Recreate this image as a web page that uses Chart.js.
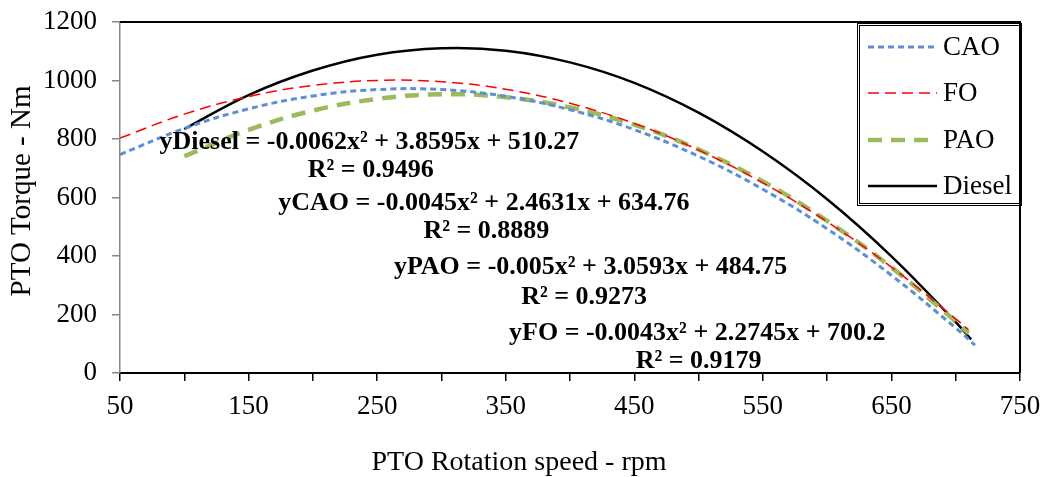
<!DOCTYPE html>
<html>
<head>
<meta charset="utf-8">
<script src="https://cdn.jsdelivr.net/npm/chart.js@4.4.1/dist/chart.umd.min.js"></script>
<style>
  html, body { margin: 0; padding: 0; background: #fff; }
  #wrap { width: 1057px; height: 477px; }
</style>
</head>
<body>
<div id="wrap"><canvas id="ptoChart" width="1057" height="477"></canvas></div>
<script>
/* ── Dados ── */
const rpmCAO     = [50, 100, 150, 200, 250, 300, 350, 400, 450, 500, 550, 600, 650, 700, 715];
const torqueCAO  = [747, 836, 903, 947, 969, 969, 946, 900, 832, 741, 628, 493, 334, 154, 95];

const rpmFO      = [50, 100, 150, 200, 250, 300, 350, 400, 450, 500, 550, 600, 650, 700, 710];
const torqueFO   = [803, 885, 945, 983, 1000, 996, 970, 922, 853, 762, 650, 517, 362, 185, 148];

const rpmPAO     = [100, 150, 200, 250, 300, 350, 400, 450, 500, 550, 600, 650, 700, 710];
const torquePAO  = [741, 831, 897, 937, 953, 943, 908, 849, 764, 655, 520, 361, 176, 136];

const rpmDiesel    = [100, 150, 200, 250, 300, 350, 400, 450, 500, 550, 600, 650, 700, 712];
const torqueDiesel = [834, 950, 1034, 1088, 1110, 1102, 1062, 992, 890, 757, 594, 399, 174, 115];

const seriesNames = ['CAO', 'FO', 'PAO', 'Diesel'];

const xTicks = { min: 50, max: 750, step: 50 };
const yTicks = { min: 0, max: 1200, step: 200 };

const xTitle = 'PTO Rotation speed - rpm';
const yTitle = 'PTO Torque - Nm';

/* Equações das linhas de tendência, como na figura */
const trendText = [
  'yDiesel = -0.0062x² + 3.8595x + 510.27', 'R² = 0.9496',
  'yCAO = -0.0045x² + 2.4631x + 634.76',    'R² = 0.8889',
  'yPAO = -0.005x² + 3.0593x + 484.75',     'R² = 0.9273',
  'yFO = -0.0043x² + 2.2745x + 700.2',      'R² = 0.9179',
];
// posição (rpm, Nm) do centro de cada texto
const trendPos = [
  [244, 790], [245, 694],
  [333, 579], [335, 484],
  [416, 360], [411, 260],
  [499, 137], [500, 40],
];

/* ── Estilo ── */
const SERIF = "'Liberation Serif', 'Times New Roman', serif";
const C = {
  cao:    '#5b8fd8',
  fo:     '#ff0000',
  pao:    '#9bbb59',
  diesel: '#000000',
  axisY:  '#868686',
};

const toXY = (xs, ys) => xs.map((x, i) => ({ x, y: ys[i] }));

const datasets = [
  { label: seriesNames[0], data: toXY(rpmCAO, torqueCAO),
    borderColor: C.cao, borderWidth: 3, borderDash: [6, 4] },
  { label: seriesNames[1], data: toXY(rpmFO, torqueFO),
    borderColor: C.fo, borderWidth: 1.5, borderDash: [11, 6] },
  { label: seriesNames[2], data: toXY(rpmPAO, torquePAO),
    borderColor: C.pao, borderWidth: 4.5, borderDash: [14, 9] },
  { label: seriesNames[3], data: toXY(rpmDiesel, torqueDiesel),
    borderColor: C.diesel, borderWidth: 2.5, borderDash: [] },
].map(d => Object.assign(d, { fill: false, tension: 0.4, pointRadius: 0 }));

/* ── Plugin: moldura, legenda, títulos e equações ── */
const chartText = {
  id: 'chartText',
  afterDraw(chart) {
    const { ctx, chartArea: a, scales } = chart;
    ctx.save();

    // moldura superior e direita
    ctx.strokeStyle = '#000';
    ctx.lineWidth = 2;
    ctx.beginPath();
    ctx.moveTo(a.left, a.top);
    ctx.lineTo(a.right, a.top);
    ctx.lineTo(a.right, a.bottom);
    ctx.stroke();

    // legenda com borda dupla
    ctx.lineWidth = 1;
    ctx.strokeRect(857.5, 23.5, 164, 182);
    ctx.strokeRect(859.5, 25.5, 160, 178);
    const rowY = [47, 93, 140, 186];
    chart.data.datasets.forEach((ds, i) => {
      ctx.strokeStyle = ds.borderColor;
      ctx.lineWidth = ds.borderWidth;
      ctx.setLineDash(ds.borderDash);
      ctx.beginPath();
      ctx.moveTo(868, rowY[i]);
      ctx.lineTo(937, rowY[i]);
      ctx.stroke();
      ctx.setLineDash([]);
      ctx.fillStyle = '#000';
      ctx.font = `27px ${SERIF}`;
      ctx.textAlign = 'left';
      ctx.textBaseline = 'middle';
      ctx.fillText(ds.label, 943, rowY[i] + 1);
    });

    // títulos dos eixos
    ctx.fillStyle = '#000';
    ctx.font = `28px ${SERIF}`;
    ctx.textAlign = 'center';
    ctx.textBaseline = 'middle';
    ctx.fillText(xTitle, 519, 463);
    ctx.save();
    ctx.translate(22, 191);
    ctx.rotate(-Math.PI / 2);
    ctx.font = `29px ${SERIF}`;
    ctx.fillText(yTitle, 0, 0);
    ctx.restore();

    // equações
    ctx.font = `bold 26px ${SERIF}`;
    trendText.forEach((t, i) => {
      const px = scales.x.getPixelForValue(trendPos[i][0]);
      const py = scales.y.getPixelForValue(trendPos[i][1]);
      ctx.fillText(t, px, py);
    });

    ctx.restore();
  }
};

new Chart(document.getElementById('ptoChart'), {
  type: 'line',
  data: { datasets },
  plugins: [chartText],
  options: {
    responsive: false,
    animation: false,
    layout: { padding: { top: 22, right: 37, left: 0, bottom: 0 } },
    plugins: { legend: { display: false }, tooltip: { enabled: false } },
    scales: {
      x: {
        type: 'linear',
        min: xTicks.min,
        max: xTicks.max,
        afterFit: s => { s.height = 104; s.paddingLeft = 0; s.paddingRight = 0; },
        border: { display: true, color: '#000', width: 2 },
        grid: { drawOnChartArea: false, drawTicks: true, tickLength: 8, color: '#000', lineWidth: 1.5 },
        ticks: {
          stepSize: xTicks.step,
          autoSkip: false,
          maxRotation: 0,
          padding: 10,
          color: '#000',
          font: { family: SERIF, size: 27 },
          callback: v => ((v - xTicks.min) % 100 === 0 ? String(v) : ''),
        },
      },
      y: {
        min: yTicks.min,
        max: yTicks.max,
        afterFit: s => { s.width = 120; s.paddingTop = 0; s.paddingBottom = 0; },
        border: { display: true, color: C.axisY, width: 1.5 },
        grid: { drawOnChartArea: false, drawTicks: true, tickLength: 8, color: C.axisY, lineWidth: 1.5 },
        ticks: {
          stepSize: yTicks.step,
          padding: 15,
          color: '#000',
          font: { family: SERIF, size: 27 },
          callback: v => String(v),
        },
      },
    },
  },
});
</script>
</body>
</html>
